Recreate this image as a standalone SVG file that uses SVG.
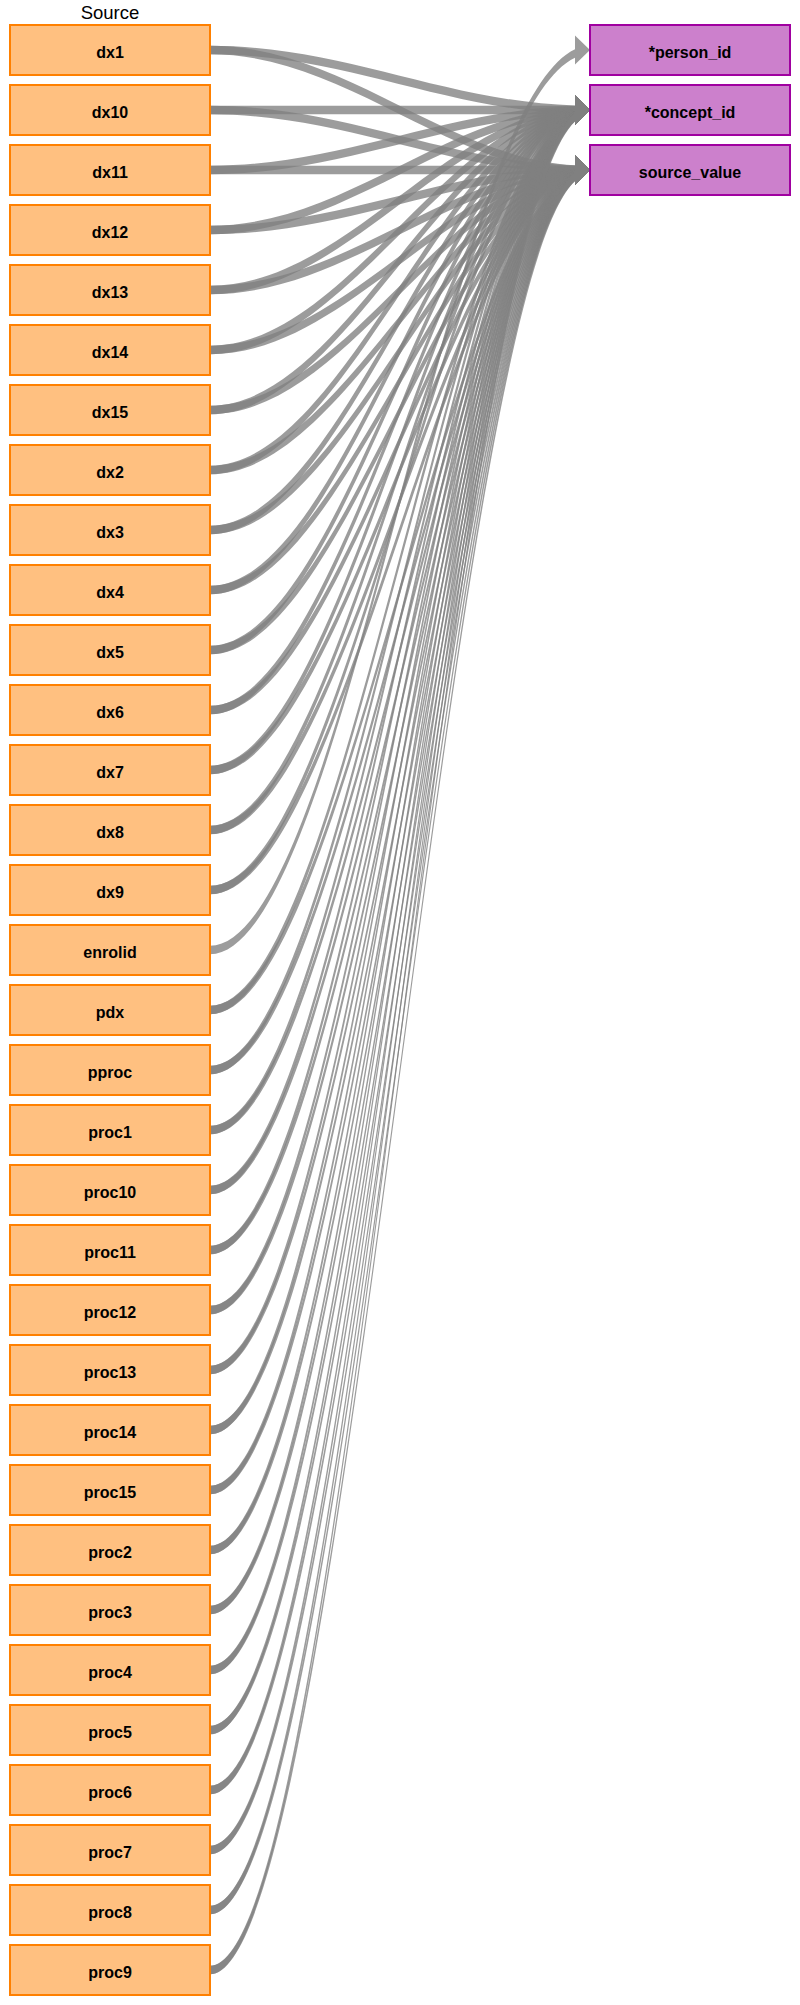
<svg xmlns="http://www.w3.org/2000/svg" xmlns:xlink="http://www.w3.org/1999/xlink" width="800" height="2005" viewBox="0 0 800 2005">
<style>
.src rect{fill:#FFC080;stroke:#FF8000;stroke-width:2}
.tgt rect{fill:#CC80CC;stroke:#A000A0;stroke-width:2}
.node text{font-family:"Liberation Sans",Arial,sans-serif;font-size:16px;font-weight:bold;fill:#000;text-anchor:middle}
.hdr{font-family:"Liberation Sans",Arial,sans-serif;font-size:18.5px;fill:#000;text-anchor:middle}
.edge{fill:#808080;fill-opacity:0.78}
</style>
<defs>
<path id="k2" d="M210,-4.25C343.06,-4.25 444.28,107.15 575,115.28L575,105.5L590,120L575,134.5L575,123.78C444.28,115.65 343.06,4.25 210,4.25Z"/>
<path id="k1" d="M210,-4.25C343.06,-4.25 444.28,51.45 575,55.52L575,45.5L590,60L575,74.5L575,64.02C444.28,59.95 343.06,4.25 210,4.25Z"/>
<path id="k0" d="M210,-4.25L575,-4.25L575,-14.5L590,0L575,14.5L575,4.25L210,4.25Z"/>
<path id="km1" d="M210,-4.25C343.06,-4.25 444.28,-59.95 575,-64.02L575,-74.5L590,-60L575,-45.5L575,-55.52C444.28,-51.45 343.06,4.25 210,4.25Z"/>
<path id="km2" d="M210,-4.25C343.06,-4.25 444.28,-115.65 575,-123.78L575,-134.5L590,-120L575,-105.5L575,-115.28C444.28,-107.15 343.06,4.25 210,4.25Z"/>
<path id="km3" d="M210,-4.25C343.06,-4.25 444.28,-171.35 575,-183.55L575,-194.5L590,-180L575,-165.5L575,-175.05C444.28,-162.85 343.06,4.25 210,4.25Z"/>
<path id="km4" d="M210,-4.25C343.06,-4.25 444.28,-227.05 575,-243.31L575,-254.5L590,-240L575,-225.5L575,-234.81C444.28,-218.55 343.06,4.25 210,4.25Z"/>
<path id="km5" d="M210,-4.25C343.06,-4.25 444.28,-282.75 575,-303.08L575,-314.5L590,-300L575,-285.5L575,-294.58C444.28,-274.25 343.06,4.25 210,4.25Z"/>
<path id="km6" d="M210,-4.25C343.06,-4.25 444.28,-338.45 575,-362.85L575,-374.5L590,-360L575,-345.5L575,-354.35C444.28,-329.95 343.06,4.25 210,4.25Z"/>
<path id="km7" d="M210,-4.25C343.06,-4.25 444.28,-394.15 575,-422.61L575,-434.5L590,-420L575,-405.5L575,-414.11C444.28,-385.65 343.06,4.25 210,4.25Z"/>
<path id="km8" d="M210,-4.25C343.06,-4.25 444.28,-449.85 575,-482.38L575,-494.5L590,-480L575,-465.5L575,-473.88C444.28,-441.35 343.06,4.25 210,4.25Z"/>
<path id="km9" d="M210,-4.25C343.06,-4.25 444.28,-505.55 575,-542.14L575,-554.5L590,-540L575,-525.5L575,-533.64C444.28,-497.05 343.06,4.25 210,4.25Z"/>
<path id="km10" d="M210,-4.25C343.06,-4.25 444.28,-561.25 575,-601.91L575,-614.5L590,-600L575,-585.5L575,-593.41C444.28,-552.75 343.06,4.25 210,4.25Z"/>
<path id="km11" d="M210,-4.25C343.06,-4.25 444.28,-616.95 575,-661.68L575,-674.5L590,-660L575,-645.5L575,-653.18C444.28,-608.45 343.06,4.25 210,4.25Z"/>
<path id="km12" d="M210,-4.25C343.06,-4.25 444.28,-672.65 575,-721.44L575,-734.5L590,-720L575,-705.5L575,-712.94C444.28,-664.15 343.06,4.25 210,4.25Z"/>
<path id="km13" d="M210,-4.25C343.06,-4.25 444.28,-728.35 575,-781.21L575,-794.5L590,-780L575,-765.5L575,-772.71C444.28,-719.85 343.06,4.25 210,4.25Z"/>
<path id="km14" d="M210,-4.25C343.06,-4.25 444.28,-784.05 575,-840.97L575,-854.5L590,-840L575,-825.5L575,-832.47C444.28,-775.55 343.06,4.25 210,4.25Z"/>
<path id="km15" d="M210,-4.25C343.06,-4.25 444.28,-839.75 575,-900.74L575,-914.5L590,-900L575,-885.5L575,-892.24C444.28,-831.25 343.06,4.25 210,4.25Z"/>
<path id="km16" d="M210,-4.25C343.06,-4.25 444.28,-895.45 575,-960.51L575,-974.5L590,-960L575,-945.5L575,-952.01C444.28,-886.95 343.06,4.25 210,4.25Z"/>
<path id="km17" d="M210,-4.25C343.06,-4.25 444.28,-951.15 575,-1020.27L575,-1034.5L590,-1020L575,-1005.5L575,-1011.77C444.28,-942.65 343.06,4.25 210,4.25Z"/>
<path id="km18" d="M210,-4.25C343.06,-4.25 444.28,-1006.85 575,-1080.04L575,-1094.5L590,-1080L575,-1065.5L575,-1071.54C444.28,-998.35 343.06,4.25 210,4.25Z"/>
<path id="km19" d="M210,-4.25C343.06,-4.25 444.28,-1062.55 575,-1139.8L575,-1154.5L590,-1140L575,-1125.5L575,-1131.3C444.28,-1054.05 343.06,4.25 210,4.25Z"/>
<path id="km20" d="M210,-4.25C343.06,-4.25 444.28,-1118.25 575,-1199.57L575,-1214.5L590,-1200L575,-1185.5L575,-1191.07C444.28,-1109.75 343.06,4.25 210,4.25Z"/>
<path id="km21" d="M210,-4.25C343.06,-4.25 444.28,-1173.95 575,-1259.34L575,-1274.5L590,-1260L575,-1245.5L575,-1250.84C444.28,-1165.45 343.06,4.25 210,4.25Z"/>
<path id="km22" d="M210,-4.25C343.06,-4.25 444.28,-1229.65 575,-1319.1L575,-1334.5L590,-1320L575,-1305.5L575,-1310.6C444.28,-1221.15 343.06,4.25 210,4.25Z"/>
<path id="km23" d="M210,-4.25C343.06,-4.25 444.28,-1285.35 575,-1378.87L575,-1394.5L590,-1380L575,-1365.5L575,-1370.37C444.28,-1276.85 343.06,4.25 210,4.25Z"/>
<path id="km24" d="M210,-4.25C343.06,-4.25 444.28,-1341.05 575,-1438.63L575,-1454.5L590,-1440L575,-1425.5L575,-1430.13C444.28,-1332.55 343.06,4.25 210,4.25Z"/>
<path id="km25" d="M210,-4.25C343.06,-4.25 444.28,-1396.75 575,-1498.4L575,-1514.5L590,-1500L575,-1485.5L575,-1489.9C444.28,-1388.25 343.06,4.25 210,4.25Z"/>
<path id="km26" d="M210,-4.25C343.06,-4.25 444.28,-1452.45 575,-1558.17L575,-1574.5L590,-1560L575,-1545.5L575,-1549.67C444.28,-1443.95 343.06,4.25 210,4.25Z"/>
<path id="km27" d="M210,-4.25C343.06,-4.25 444.28,-1508.15 575,-1617.93L575,-1634.5L590,-1620L575,-1605.5L575,-1609.43C444.28,-1499.65 343.06,4.25 210,4.25Z"/>
<path id="km28" d="M210,-4.25C343.06,-4.25 444.28,-1563.85 575,-1677.7L575,-1694.5L590,-1680L575,-1665.5L575,-1669.2C444.28,-1555.35 343.06,4.25 210,4.25Z"/>
<path id="km29" d="M210,-4.25C343.06,-4.25 444.28,-1619.55 575,-1737.46L575,-1754.5L590,-1740L575,-1725.5L575,-1728.96C444.28,-1611.05 343.06,4.25 210,4.25Z"/>
<path id="km30" d="M210,-4.25C343.06,-4.25 444.28,-1675.25 575,-1797.23L575,-1814.5L590,-1800L575,-1785.5L575,-1788.73C444.28,-1666.75 343.06,4.25 210,4.25Z"/>
<path id="km31" d="M210,-4.25C343.06,-4.25 444.28,-1730.95 575,-1857L575,-1874.5L590,-1860L575,-1845.5L575,-1848.5C444.28,-1722.45 343.06,4.25 210,4.25Z"/>
</defs>
<text class="hdr" x="110" y="19">Source</text>
<g id="connectors">
<use class="edge" href="#k1" y="50"/><use class="edge" href="#k2" y="50"/>
<use class="edge" href="#k0" y="110"/><use class="edge" href="#k1" y="110"/>
<use class="edge" href="#km1" y="170"/><use class="edge" href="#k0" y="170"/>
<use class="edge" href="#km2" y="230"/><use class="edge" href="#km1" y="230"/>
<use class="edge" href="#km3" y="290"/><use class="edge" href="#km2" y="290"/>
<use class="edge" href="#km4" y="350"/><use class="edge" href="#km3" y="350"/>
<use class="edge" href="#km5" y="410"/><use class="edge" href="#km4" y="410"/>
<use class="edge" href="#km6" y="470"/><use class="edge" href="#km5" y="470"/>
<use class="edge" href="#km7" y="530"/><use class="edge" href="#km6" y="530"/>
<use class="edge" href="#km8" y="590"/><use class="edge" href="#km7" y="590"/>
<use class="edge" href="#km9" y="650"/><use class="edge" href="#km8" y="650"/>
<use class="edge" href="#km10" y="710"/><use class="edge" href="#km9" y="710"/>
<use class="edge" href="#km11" y="770"/><use class="edge" href="#km10" y="770"/>
<use class="edge" href="#km12" y="830"/><use class="edge" href="#km11" y="830"/>
<use class="edge" href="#km13" y="890"/><use class="edge" href="#km12" y="890"/>
<use class="edge" href="#km15" y="950"/>
<use class="edge" href="#km15" y="1010"/><use class="edge" href="#km14" y="1010"/>
<use class="edge" href="#km16" y="1070"/><use class="edge" href="#km15" y="1070"/>
<use class="edge" href="#km17" y="1130"/><use class="edge" href="#km16" y="1130"/>
<use class="edge" href="#km18" y="1190"/><use class="edge" href="#km17" y="1190"/>
<use class="edge" href="#km19" y="1250"/><use class="edge" href="#km18" y="1250"/>
<use class="edge" href="#km20" y="1310"/><use class="edge" href="#km19" y="1310"/>
<use class="edge" href="#km21" y="1370"/><use class="edge" href="#km20" y="1370"/>
<use class="edge" href="#km22" y="1430"/><use class="edge" href="#km21" y="1430"/>
<use class="edge" href="#km23" y="1490"/><use class="edge" href="#km22" y="1490"/>
<use class="edge" href="#km24" y="1550"/><use class="edge" href="#km23" y="1550"/>
<use class="edge" href="#km25" y="1610"/><use class="edge" href="#km24" y="1610"/>
<use class="edge" href="#km26" y="1670"/><use class="edge" href="#km25" y="1670"/>
<use class="edge" href="#km27" y="1730"/><use class="edge" href="#km26" y="1730"/>
<use class="edge" href="#km28" y="1790"/><use class="edge" href="#km27" y="1790"/>
<use class="edge" href="#km29" y="1850"/><use class="edge" href="#km28" y="1850"/>
<use class="edge" href="#km30" y="1910"/><use class="edge" href="#km29" y="1910"/>
<use class="edge" href="#km31" y="1970"/><use class="edge" href="#km30" y="1970"/>
</g>
<g id="n-dx1" class="node src"><rect x="10" y="25" width="200" height="50"/><text x="110" y="57.7">dx1</text></g>
<g id="n-dx10" class="node src"><rect x="10" y="85" width="200" height="50"/><text x="110" y="117.7">dx10</text></g>
<g id="n-dx11" class="node src"><rect x="10" y="145" width="200" height="50"/><text x="110" y="177.7">dx11</text></g>
<g id="n-dx12" class="node src"><rect x="10" y="205" width="200" height="50"/><text x="110" y="237.7">dx12</text></g>
<g id="n-dx13" class="node src"><rect x="10" y="265" width="200" height="50"/><text x="110" y="297.7">dx13</text></g>
<g id="n-dx14" class="node src"><rect x="10" y="325" width="200" height="50"/><text x="110" y="357.7">dx14</text></g>
<g id="n-dx15" class="node src"><rect x="10" y="385" width="200" height="50"/><text x="110" y="417.7">dx15</text></g>
<g id="n-dx2" class="node src"><rect x="10" y="445" width="200" height="50"/><text x="110" y="477.7">dx2</text></g>
<g id="n-dx3" class="node src"><rect x="10" y="505" width="200" height="50"/><text x="110" y="537.7">dx3</text></g>
<g id="n-dx4" class="node src"><rect x="10" y="565" width="200" height="50"/><text x="110" y="597.7">dx4</text></g>
<g id="n-dx5" class="node src"><rect x="10" y="625" width="200" height="50"/><text x="110" y="657.7">dx5</text></g>
<g id="n-dx6" class="node src"><rect x="10" y="685" width="200" height="50"/><text x="110" y="717.7">dx6</text></g>
<g id="n-dx7" class="node src"><rect x="10" y="745" width="200" height="50"/><text x="110" y="777.7">dx7</text></g>
<g id="n-dx8" class="node src"><rect x="10" y="805" width="200" height="50"/><text x="110" y="837.7">dx8</text></g>
<g id="n-dx9" class="node src"><rect x="10" y="865" width="200" height="50"/><text x="110" y="897.7">dx9</text></g>
<g id="n-enrolid" class="node src"><rect x="10" y="925" width="200" height="50"/><text x="110" y="957.7">enrolid</text></g>
<g id="n-pdx" class="node src"><rect x="10" y="985" width="200" height="50"/><text x="110" y="1017.7">pdx</text></g>
<g id="n-pproc" class="node src"><rect x="10" y="1045" width="200" height="50"/><text x="110" y="1077.7">pproc</text></g>
<g id="n-proc1" class="node src"><rect x="10" y="1105" width="200" height="50"/><text x="110" y="1137.7">proc1</text></g>
<g id="n-proc10" class="node src"><rect x="10" y="1165" width="200" height="50"/><text x="110" y="1197.7">proc10</text></g>
<g id="n-proc11" class="node src"><rect x="10" y="1225" width="200" height="50"/><text x="110" y="1257.7">proc11</text></g>
<g id="n-proc12" class="node src"><rect x="10" y="1285" width="200" height="50"/><text x="110" y="1317.7">proc12</text></g>
<g id="n-proc13" class="node src"><rect x="10" y="1345" width="200" height="50"/><text x="110" y="1377.7">proc13</text></g>
<g id="n-proc14" class="node src"><rect x="10" y="1405" width="200" height="50"/><text x="110" y="1437.7">proc14</text></g>
<g id="n-proc15" class="node src"><rect x="10" y="1465" width="200" height="50"/><text x="110" y="1497.7">proc15</text></g>
<g id="n-proc2" class="node src"><rect x="10" y="1525" width="200" height="50"/><text x="110" y="1557.7">proc2</text></g>
<g id="n-proc3" class="node src"><rect x="10" y="1585" width="200" height="50"/><text x="110" y="1617.7">proc3</text></g>
<g id="n-proc4" class="node src"><rect x="10" y="1645" width="200" height="50"/><text x="110" y="1677.7">proc4</text></g>
<g id="n-proc5" class="node src"><rect x="10" y="1705" width="200" height="50"/><text x="110" y="1737.7">proc5</text></g>
<g id="n-proc6" class="node src"><rect x="10" y="1765" width="200" height="50"/><text x="110" y="1797.7">proc6</text></g>
<g id="n-proc7" class="node src"><rect x="10" y="1825" width="200" height="50"/><text x="110" y="1857.7">proc7</text></g>
<g id="n-proc8" class="node src"><rect x="10" y="1885" width="200" height="50"/><text x="110" y="1917.7">proc8</text></g>
<g id="n-proc9" class="node src"><rect x="10" y="1945" width="200" height="50"/><text x="110" y="1977.7">proc9</text></g>
<g id="n-person_id" class="node tgt"><rect x="590" y="25" width="200" height="50"/><text x="690" y="57.7">*person_id</text></g>
<g id="n-concept_id" class="node tgt"><rect x="590" y="85" width="200" height="50"/><text x="690" y="117.7">*concept_id</text></g>
<g id="n-source_value" class="node tgt"><rect x="590" y="145" width="200" height="50"/><text x="690" y="177.7">source_value</text></g>
</svg>
